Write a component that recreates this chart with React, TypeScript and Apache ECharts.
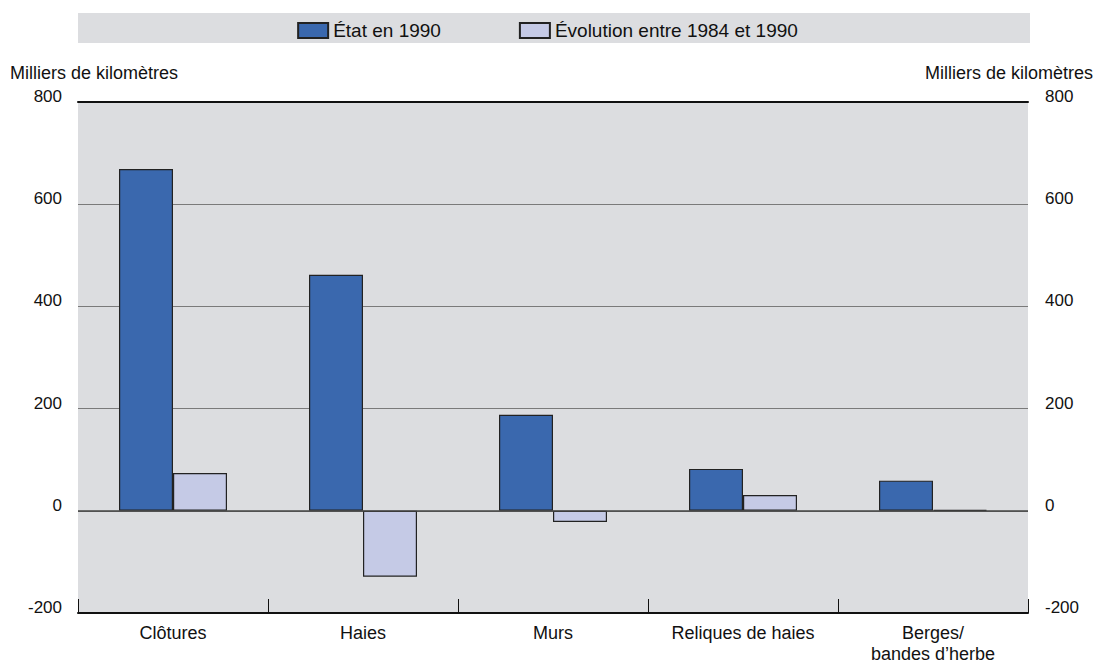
import React, { useEffect, useRef } from "react";
import * as echarts from "echarts";

const categories = ["Clôtures", "Haies", "Murs", "Reliques de haies", "Berges/\nbandes d\u2019herbe"];
const etat1990 = [669, 462, 188, 82, 59];
const evolution = [74, -129, -22, 31, 2];
const seriesNames = ["État en 1990", "Évolution entre 1984 et 1990"];
const axisTitle = "Milliers de kilomètres";

const FONT = "'Liberation Sans', Arial, Helvetica, sans-serif";

export default function App() {
  const ref = useRef<HTMLDivElement>(null);
  useEffect(() => {
    if (!ref.current) return;
    const chart = echarts.init(ref.current, null, { renderer: "svg" });
    const yAxisCommon = {
      type: "value",
      min: -200,
      max: 800,
      interval: 200,
      axisLine: { show: false },
      axisTick: { show: false },
      splitLine: { show: true, lineStyle: { color: "#7a7a7a", width: 1 } },
    };
    chart.setOption({
      animation: false,
      textStyle: { fontFamily: FONT },
      graphic: [
        { type: "rect", z: -10, shape: { x: 78, y: 13, width: 952, height: 30 }, style: { fill: "#dcdde0" } },
        { type: "text", x: 10, y: 73, style: { text: axisTitle, font: `18px ${FONT}`, fill: "#111", textVerticalAlign: "middle", textAlign: "left" } },
        { type: "text", x: 1093, y: 73, style: { text: axisTitle, font: `18px ${FONT}`, fill: "#111", textVerticalAlign: "middle", textAlign: "right" } },
      ],
      legend: {
        top: 16,
        left: "center",
        itemWidth: 30,
        itemHeight: 15,
        itemGap: 78,
        icon: "rect",
        textStyle: { fontSize: 19, color: "#111", fontFamily: FONT },
        data: seriesNames,
      },
      grid: {
        left: 78,
        right: 67,
        top: 102,
        bottom: 50,
        show: true,
        backgroundColor: "#dcdde0",
        borderWidth: 0,
        containLabel: false,
        outerBoundsMode: "none",
      },
      xAxis: [
        {
          type: "category",
          data: categories,
          position: "bottom",
          axisLine: { onZero: false, lineStyle: { color: "#111", width: 2 } },
          axisTick: { show: true, inside: true, length: 14, lineStyle: { color: "#111", width: 1 } },
          axisLabel: { fontSize: 18, color: "#111", margin: 9, lineHeight: 21, fontFamily: FONT },
        },
        {
          type: "category",
          data: categories,
          position: "top",
          axisLine: { show: true, onZero: false, lineStyle: { color: "#111", width: 2 } },
          axisTick: { show: false },
          axisLabel: { show: false },
        },
      ],
      yAxis: [
        { ...yAxisCommon, position: "left", axisLabel: { fontSize: 17, color: "#111", margin: 16, verticalAlign: "bottom", padding: [0, 0, -3, 0], fontFamily: FONT } },
        { ...yAxisCommon, position: "right", axisLabel: { fontSize: 17, color: "#111", margin: 17, verticalAlign: "bottom", padding: [0, 0, -3, 0], fontFamily: FONT } },
      ],
      series: [
        {
          name: seriesNames[0],
          type: "bar",
          data: etat1990,
          barWidth: 54,
          barGap: "0%",
          itemStyle: { color: "#3a68ae", borderColor: "#222", borderWidth: 1.2 },
          markLine: {
            silent: true,
            symbol: "none",
            label: { show: false },
            lineStyle: { color: "#444", width: 1.5, type: "solid" },
            data: [{ yAxis: 0 }],
          },
        },
        {
          name: seriesNames[1],
          type: "bar",
          data: evolution,
          barWidth: 54,
          barGap: "0%",
          itemStyle: { color: "#c5cae6", borderColor: "#222", borderWidth: 1.2 },
        },
      ],
    });
    return () => chart.dispose();
  }, []);
  return <div ref={ref} style={{ position: "absolute", left: 0, top: 0, width: 1095, height: 663 }} />;
}
